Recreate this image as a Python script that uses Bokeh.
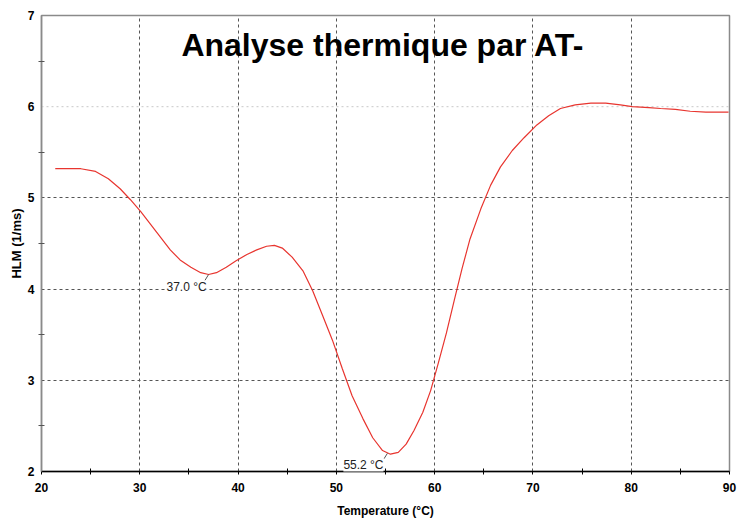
from bokeh.plotting import figure
from bokeh.models import Label, Span, FixedTicker
from bokeh.embed import file_html
from bokeh.resources import INLINE

# ---- data ----
temp = [21.4, 24.0, 25.5, 26.8, 28.0, 29.05, 30.1, 31.1, 32.1, 33.1, 34.1, 35.2,
        36.2, 37.0, 37.8, 38.8, 39.8, 40.9, 41.9, 42.9, 43.7, 44.5, 45.5, 46.6,
        47.6, 48.6, 49.6, 50.6, 51.6, 52.7, 53.7, 54.7, 55.5, 56.3, 57.1, 57.9,
        58.8, 59.6, 60.4, 61.2, 62.0, 62.8, 63.6, 64.7, 65.7, 66.7, 67.9, 69.1,
        70.4, 71.6, 72.8, 74.3, 75.9, 77.4, 78.9, 80.1, 81.8, 83.0, 84.5, 86.0,
        87.6, 89.9]
hlm = [5.32, 5.32, 5.29, 5.21, 5.10, 4.98, 4.85, 4.71, 4.57, 4.43, 4.32, 4.24,
       4.18, 4.16, 4.18, 4.24, 4.31, 4.38, 4.43, 4.47, 4.48, 4.45, 4.35, 4.20,
       3.98, 3.71, 3.44, 3.13, 2.83, 2.58, 2.37, 2.23, 2.19, 2.21, 2.30, 2.45,
       2.65, 2.89, 3.20, 3.52, 3.88, 4.23, 4.55, 4.88, 5.14, 5.34, 5.52, 5.66,
       5.80, 5.90, 5.98, 6.02, 6.04, 6.04, 6.02, 6.00, 5.99, 5.98, 5.97, 5.95,
       5.94, 5.94]

peak_temps = [37.0, 55.2]
peak_hlm = [4.16, 2.20]
x_ticks = [20, 30, 40, 50, 60, 70, 80, 90]
y_ticks = [2, 3, 4, 5, 6, 7]
title_text = "Analyse thermique par AT-"
x_label = "Temperature (°C)"
y_label = "HLM (1/ms)"

FONT = "'Liberation Sans', Arial, sans-serif"

p = figure(width=737, height=520, x_range=(20, 90), y_range=(2, 7),
           output_backend="svg", toolbar_location=None,
           min_border_left=41, min_border_right=8,
           min_border_top=15, min_border_bottom=49)
p.background_fill_color = "white"
p.border_fill_color = "white"
p.outline_line_color = "#8a8a8a"
p.outline_line_width = 1.5

p.xaxis.ticker = FixedTicker(ticks=x_ticks, minor_ticks=[t + 5 for t in x_ticks[:-1]])
p.yaxis.ticker = FixedTicker(ticks=y_ticks, minor_ticks=[t + 0.5 for t in y_ticks[:-1]])

# grids
p.xgrid.ticker = FixedTicker(ticks=x_ticks[1:-1])
p.xgrid.grid_line_color = "#555555"
p.xgrid.grid_line_dash = "3 3"
p.xgrid.grid_line_width = 1
p.ygrid.ticker = FixedTicker(ticks=y_ticks[1:4])
p.ygrid.grid_line_color = "#555555"
p.ygrid.grid_line_dash = "3 3"
p.ygrid.grid_line_width = 1
p.add_layout(Span(location=y_ticks[4], dimension="width", line_color="#c8c8c8",
                  line_dash="2 3", line_width=1, level="underlay"))

# x axis
xa = p.xaxis[0]
xa.axis_line_color = "black"
xa.axis_line_width = 1.5
xa.major_tick_line_color = "black"
xa.minor_tick_line_color = "black"
xa.major_tick_in = 0
xa.major_tick_out = 3
xa.minor_tick_in = 3
xa.minor_tick_out = 3
xa.major_label_standoff = 8
xa.major_label_text_font = FONT
xa.major_label_text_font_style = "bold"
xa.major_label_text_font_size = "12px"
xa.major_label_text_color = "black"
xa.axis_label = x_label
xa.axis_label_standoff = 9
xa.axis_label_text_font = FONT
xa.axis_label_text_font_style = "bold"
xa.axis_label_text_font_size = "12px"
xa.axis_label_text_color = "black"

# y axis
ya = p.yaxis[0]
ya.axis_line_color = "#8a8a8a"
ya.axis_line_width = 1.5
ya.major_tick_line_color = "#555555"
ya.minor_tick_line_color = "#555555"
ya.major_tick_in = 0
ya.major_tick_out = 0
ya.minor_tick_in = 3
ya.minor_tick_out = 3
ya.major_label_standoff = 4
ya.major_label_text_font = FONT
ya.major_label_text_font_style = "bold"
ya.major_label_text_font_size = "12px"
ya.major_label_text_color = "black"
ya.axis_label = y_label
ya.axis_label_standoff = 1
ya.axis_label_text_font = FONT
ya.axis_label_text_font_style = "bold"
ya.axis_label_text_font_size = "13px"
ya.axis_label_text_color = "black"

# curve
p.line(temp, hlm, line_color="#e8352f", line_width=1.2)

# peak leaders and labels
p.segment(x0=peak_temps, y0=peak_hlm,
          x1=[peak_temps[0] - 0.4, peak_temps[1] - 0.35],
          y1=[peak_hlm[0] - 0.07, peak_hlm[1] - 0.06],
          line_color="#555555", line_width=1)
label_pos = [(peak_temps[0] - 0.2, 4.02), (peak_temps[1] - 0.4, 2.07)]
for t, (lx, ly) in zip(peak_temps, label_pos):
    p.add_layout(Label(x=lx, y=ly, text=f"{t:.1f} °C", text_align="right",
                       text_baseline="middle", text_font=FONT,
                       text_font_size="12px", text_color="#222222",
                       background_fill_color="white"))

# title inside plot
p.add_layout(Label(x=54.74, y=6.68, text=title_text, text_align="center",
                   text_baseline="middle", text_font=FONT,
                   text_font_style="bold", text_font_size="32px",
                   text_color="black"))

open("out.html", "w").write(file_html(p, INLINE))
